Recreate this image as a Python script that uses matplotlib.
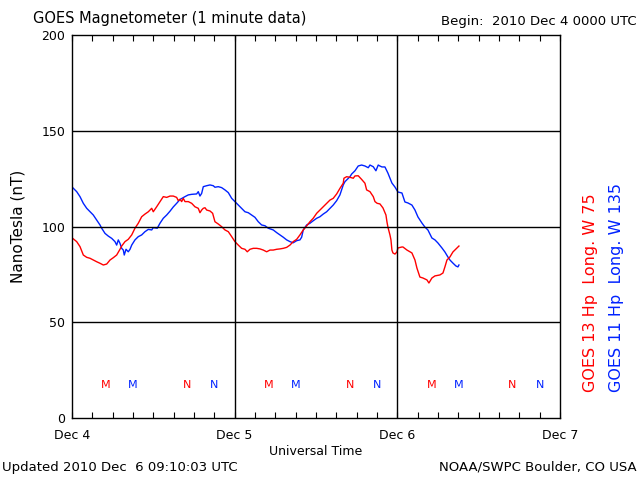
import matplotlib
matplotlib.use("Agg")
import matplotlib.pyplot as plt
from matplotlib.ticker import MultipleLocator

# Hours since 2010 Dec 4 00:00 UT, field in nT
red_hours = [0.1, 0.69, 1.18, 1.67, 2.17, 2.66, 3.14, 3.64, 4.13, 4.62, 5.12, 5.61, 6.09, 6.59,
             7.08, 7.33, 7.82, 8.30, 8.81, 9.29, 9.78, 10.28, 10.77, 11.26, 11.76, 11.99, 12.49,
             12.98, 13.47, 13.97, 14.46, 14.94, 15.44, 15.68, 15.93, 16.18, 16.42, 16.67, 17.16,
             17.66, 18.14, 18.63, 18.88, 19.13, 19.37, 19.62, 19.87, 20.36, 20.75, 21.09, 21.58,
             22.08, 22.57, 23.06, 23.56, 24.04, 24.53, 25.03, 25.52, 25.86, 26.26, 26.74, 27.25,
             27.73, 28.22, 28.72, 29.21, 29.69, 30.20, 30.68, 31.17, 31.67, 32.16, 32.64, 33.15,
             33.63, 34.12, 34.62, 35.11, 35.59, 36.10, 36.58, 37.07, 37.57, 38.06, 38.54, 39.05,
             39.53, 40.02, 40.12, 40.52, 41.01, 41.50, 41.75, 42.23, 42.73, 43.22, 43.47, 43.96,
             44.45, 44.70, 45.03, 45.43, 45.88, 46.32, 46.47, 46.61, 46.91, 47.06, 47.20, 47.35,
             47.65, 47.94, 48.09, 48.68, 48.83, 49.42, 50.15, 50.60, 50.89, 51.33, 51.78, 52.37,
             52.66, 53.10, 53.55, 54.28, 54.73, 55.02, 55.32, 55.76, 56.20, 56.79, 57.09]
red_nt = [93.8, 92.1, 89.5, 85.1, 83.9, 83.4, 82.5, 81.6, 80.8, 79.9, 80.4, 82.5, 83.7, 85.1,
          88.1, 89.8, 92.1, 93.3, 95.6, 99.1, 101.7, 105.1, 106.5, 107.7, 109.5, 107.7, 110.3,
          113.0, 115.6, 115.2, 115.9, 115.9, 115.2, 113.5, 114.2, 113.0, 114.7, 113.0, 113.0,
          112.1, 110.3, 109.5, 107.2, 108.6, 109.5, 109.8, 108.6, 108.1, 106.9, 102.5, 101.3,
          99.9, 98.2, 97.3, 94.7, 92.1, 90.3, 88.6, 88.1, 86.8, 88.1, 88.6, 88.6,
          88.3, 87.7, 86.8, 87.7, 87.7, 88.1, 88.3, 88.6, 89.1, 90.3, 92.1, 93.3,
          95.6, 98.2, 100.3, 102.5, 104.3, 106.9, 108.6, 110.3, 112.1, 113.8, 114.7, 117.0,
          119.9, 122.6, 125.2, 126.0, 125.7, 125.2, 126.4, 126.5, 124.6, 122.6, 119.1, 118.2,
          115.6, 113.0, 112.1, 111.8, 109.7, 106.0, 102.4, 99.7, 95.6, 93.0, 87.7, 86.2,
          85.6, 86.7, 88.8, 89.3, 89.3, 87.7, 86.2, 82.5, 78.3, 73.6, 73.1, 72.1,
          70.5, 73.1, 74.2, 74.7, 75.7, 78.9, 82.5, 84.1, 86.7, 88.8, 89.8]

blue_hours = [0.1, 0.69, 1.18, 1.67, 2.17, 2.66, 3.14, 3.64, 4.13, 4.38, 4.87, 5.35, 5.86, 6.34,
              6.59, 6.83, 7.08, 7.33, 7.57, 7.71, 7.97, 8.30, 8.56, 8.81, 9.29, 9.78, 10.28,
              10.77, 11.26, 11.76, 11.99, 12.58, 12.98, 13.47, 13.97, 14.46, 14.94, 15.44, 15.93,
              16.67, 17.16, 17.66, 18.39, 18.63, 18.88, 19.13, 19.37, 19.87, 20.36, 20.84, 21.09,
              21.58, 22.08, 22.57, 23.06, 23.56, 24.04, 24.53, 25.03, 25.52, 26.01, 26.51, 26.99,
              27.48, 27.98, 28.47, 28.96, 29.69, 30.20, 30.68, 31.17, 31.67, 32.16, 32.64, 33.15,
              33.63, 33.88, 34.12, 34.62, 35.11, 35.59, 36.10, 36.58, 37.07, 37.57, 38.06, 38.54,
              39.05, 39.53, 39.78, 40.02, 40.27, 40.52, 41.01, 41.26, 41.75, 42.23, 42.73, 43.22,
              43.71, 43.96, 44.45, 44.84, 45.18, 45.43, 45.73, 46.17, 46.61, 46.91, 47.20, 47.65,
              48.09, 48.68, 49.12, 49.56, 50.15, 50.60, 51.04, 51.63, 52.07, 52.51, 53.10, 53.55,
              53.99, 54.58, 55.02, 55.46, 55.76, 56.20, 56.64, 56.94, 57.09]
blue_nt = [120.3, 118.2, 115.6, 112.1, 109.5, 107.7, 106.0, 103.4, 100.8, 99.1, 96.4, 95.0, 93.8, 92.1,
           90.3, 93.0, 91.2, 88.6, 87.7, 85.1, 88.1, 86.8, 88.1, 90.3, 93.0, 94.7, 95.6,
           97.3, 98.5, 98.2, 99.4, 99.1, 101.7, 104.3, 106.0, 108.0, 110.2, 112.1, 114.1,
           115.6, 116.5, 116.8, 117.0, 118.2, 115.9, 117.3, 120.8, 121.3, 121.7, 121.3, 120.5,
           120.8, 120.3, 119.1, 117.7, 114.7, 113.0, 111.2, 109.5, 107.7, 107.2, 106.0, 104.8,
           102.5, 100.8, 100.4, 99.1, 98.2, 96.8, 95.6, 94.4, 93.0, 92.1, 91.5, 92.6,
           93.0, 94.4, 98.2, 100.8, 101.7, 103.0, 104.3, 105.1, 106.5, 107.7, 109.5, 111.2,
           113.5, 116.5, 119.1, 121.7, 123.4, 124.3, 126.0, 127.4, 129.1, 131.6, 132.1, 131.6,
           130.7, 132.1, 131.2, 129.1, 132.1, 131.6, 131.1, 131.1, 127.9, 125.3, 122.7, 120.6,
           118.0, 117.5, 112.8, 112.3, 111.2, 108.6, 105.0, 101.8, 99.7, 98.2, 94.0, 93.0,
           91.4, 88.8, 86.7, 84.1, 82.5, 80.9, 79.4, 78.9, 79.9]

red_M_hours = [5, 29, 53]
red_N_hours = [17, 41, 65]
blue_M_hours = [9, 33, 57]
blue_N_hours = [21, 45, 69]

day_ticks = [0, 24, 48, 72]
day_labels = ["Dec 4", "Dec 5", "Dec 6", "Dec 7"]
y_ticks = [0, 50, 100, 150, 200]

RED = "#ff0000"
BLUE = "#0022ff"

fig = plt.figure(figsize=(6.4, 4.8), dpi=100)
ax = fig.add_axes([72 / 640, 62 / 480, 488 / 640, 383 / 480])

ax.plot(blue_hours, blue_nt, color=BLUE, lw=1.0)
ax.plot(red_hours, red_nt, color=RED, lw=1.0)

ax.set_xlim(0, 72)
ax.set_ylim(0, 200)
ax.set_xticks(day_ticks)
ax.set_xticklabels(day_labels, fontsize=9)
ax.set_yticks(y_ticks)
ax.set_yticklabels([str(v) for v in y_ticks], fontsize=9)
ax.xaxis.set_minor_locator(MultipleLocator(3))
ax.tick_params(axis="x", which="both", direction="in", top=True, bottom=True, length=4, width=0.8, pad=8)
ax.tick_params(axis="y", which="both", length=0, pad=5)

for h in [24, 48]:
    ax.axvline(h, color="black", lw=1.0)
for v in [50, 100, 150]:
    ax.axhline(v, color="black", lw=1.0)
for s in ax.spines.values():
    s.set_linewidth(1.0)

for h in red_M_hours:
    ax.text(h, 17, "M", color=RED, ha="center", va="center", fontsize=8)
for h in red_N_hours:
    ax.text(h, 17, "N", color=RED, ha="center", va="center", fontsize=8)
for h in blue_M_hours:
    ax.text(h, 17, "M", color=BLUE, ha="center", va="center", fontsize=8)
for h in blue_N_hours:
    ax.text(h, 17, "N", color=BLUE, ha="center", va="center", fontsize=8)

ax.set_ylabel("NanoTesla (nT)", fontsize=11, labelpad=11)
ax.set_xlabel("Universal Time", fontsize=9, labelpad=2)

fig.text(33 / 640, 1 - 18 / 480, "GOES Magnetometer (1 minute data)", fontsize=10.5, ha="left", va="center")
fig.text(637 / 640, 1 - 22 / 480, "Begin:  2010 Dec 4 0000 UTC", fontsize=9.5, ha="right", va="center")
fig.text(2 / 640, 1 - 467 / 480, "Updated 2010 Dec  6 09:10:03 UTC", fontsize=9.5, ha="left", va="center")
fig.text(637 / 640, 1 - 467 / 480, "NOAA/SWPC Boulder, CO USA", fontsize=9.5, ha="right", va="center")

fig.text(591 / 640, 1 - 392 / 480, "GOES 13 Hp  Long. W 75", color=RED, fontsize=11.5,
         rotation=90, ha="center", va="bottom")
fig.text(617 / 640, 1 - 392 / 480, "GOES 11 Hp  Long. W 135", color=BLUE, fontsize=11.5,
         rotation=90, ha="center", va="bottom")

fig.savefig("out.png", dpi=100)
